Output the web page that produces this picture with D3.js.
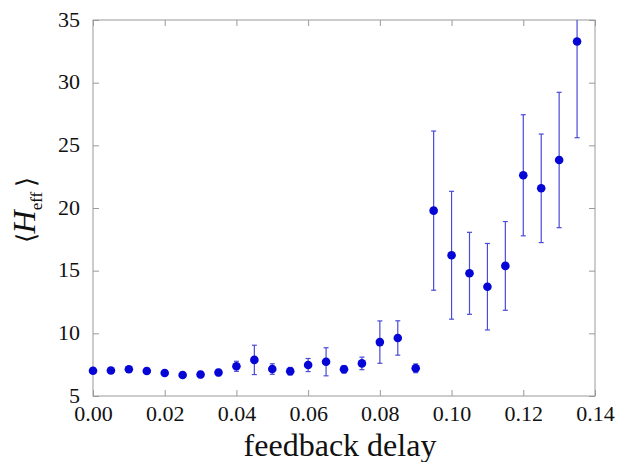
<!DOCTYPE html>
<html>
<head>
  <meta charset="utf-8">
  <script src="https://d3js.org/d3.v7.min.js"></script>
  <style>
    body { margin: 0; padding: 0; background: white; }
    .axis path { display: none; }
    .axis line { stroke: #9a9a9a; stroke-width: 1px; }
    .axis text { font-family: "Liberation Serif", serif; font-size: 22px; fill: #111; }
  </style>
</head>
<body>
<div id="chart"></div>
<script>
// feedback delay (x) and mean effective H with its error
const delay = [0.000, 0.005, 0.010, 0.015, 0.020, 0.025, 0.030, 0.035, 0.040, 0.045,
               0.050, 0.055, 0.060, 0.065, 0.070, 0.075, 0.080, 0.085, 0.090, 0.095,
               0.100, 0.105, 0.110, 0.115, 0.120, 0.125, 0.130, 0.135];
const meanH = [7.02, 7.03, 7.14, 7.00, 6.83, 6.68, 6.71, 6.87, 7.37, 7.88,
               7.15, 6.98, 7.47, 7.73, 7.13, 7.60, 9.30, 9.63, 7.21, 19.79,
               16.23, 14.79, 13.72, 15.38, 22.61, 21.57, 23.83, 33.28];
const errH = [0.20, 0.20, 0.20, 0.20, 0.20, 0.20, 0.25, 0.25, 0.40, 1.17,
              0.42, 0.30, 0.52, 1.12, 0.30, 0.50, 1.69, 1.37, 0.35, 6.35,
              5.10, 3.27, 3.45, 3.54, 4.83, 4.33, 5.40, 7.67];
const xTicks = [0, 0.02, 0.04, 0.06, 0.08, 0.10, 0.12, 0.14];
const yTicks = [5, 10, 15, 20, 25, 30, 35];

const width = 619, height = 462;
const margin = { top: 20, right: 24, bottom: 66, left: 93 };
const iw = width - margin.left - margin.right;
const ih = height - margin.top - margin.bottom;

const x = d3.scaleLinear().domain([0, 0.14]).range([0, iw]);
const y = d3.scaleLinear().domain([5, 35]).range([ih, 0]);

const svg = d3.select("#chart").append("svg")
  .attr("width", width)
  .attr("height", height);

svg.append("defs").append("clipPath").attr("id", "plotclip")
  .append("rect").attr("width", iw).attr("height", ih);

const g = svg.append("g").attr("transform", `translate(${margin.left},${margin.top})`);

// axes with inward ticks on all four sides
g.append("g").attr("class", "axis").attr("transform", `translate(0,${ih})`)
  .call(d3.axisBottom(x).tickValues(xTicks).tickSize(-6).tickPadding(9).tickFormat(d3.format(".2f")));
g.append("g").attr("class", "axis")
  .call(d3.axisTop(x).tickValues(xTicks).tickSize(-6).tickFormat(""));
g.append("g").attr("class", "axis")
  .call(d3.axisLeft(y).tickValues(yTicks).tickSize(-6).tickPadding(13))
  .selectAll("text").attr("dy", "0.28em");
g.append("g").attr("class", "axis").attr("transform", `translate(${iw},0)`)
  .call(d3.axisRight(y).tickValues(yTicks).tickSize(-6).tickFormat(""));

g.append("rect")
  .attr("width", iw).attr("height", ih)
  .attr("fill", "none").attr("stroke", "#9a9a9a").attr("stroke-width", 1);

const pts = delay.map((d, i) => ({ x: d, m: meanH[i], e: errH[i] }));

const bars = g.append("g").attr("clip-path", "url(#plotclip)")
  .attr("stroke", "#4a4ad8").attr("stroke-width", 1.2);

bars.selectAll("line.v").data(pts).enter().append("line")
  .attr("class", "v")
  .attr("x1", d => x(d.x)).attr("x2", d => x(d.x))
  .attr("y1", d => y(d.m - d.e)).attr("y2", d => y(d.m + d.e));
bars.selectAll("line.top").data(pts).enter().append("line")
  .attr("class", "top")
  .attr("x1", d => x(d.x) - 2.5).attr("x2", d => x(d.x) + 2.5)
  .attr("y1", d => y(d.m + d.e)).attr("y2", d => y(d.m + d.e));
bars.selectAll("line.bot").data(pts).enter().append("line")
  .attr("class", "bot")
  .attr("x1", d => x(d.x) - 2.5).attr("x2", d => x(d.x) + 2.5)
  .attr("y1", d => y(d.m - d.e)).attr("y2", d => y(d.m - d.e));

g.append("g").selectAll("circle").data(pts).enter().append("circle")
  .attr("cx", d => x(d.x)).attr("cy", d => y(d.m))
  .attr("r", 4.3)
  .attr("fill", "#0505d6");

// axis labels
svg.append("text")
  .attr("x", margin.left + iw / 2 - 4).attr("y", 456)
  .attr("text-anchor", "middle")
  .style("font-family", "Liberation Serif, serif")
  .style("font-size", "32px")
  .style("fill", "#111")
  .text("feedback delay");

const yl = svg.append("text")
  .attr("transform", "translate(35,210) rotate(-90)")
  .attr("text-anchor", "middle")
  .style("font-family", "Liberation Serif, serif")
  .style("font-size", "32px")
  .style("fill", "#111");
yl.append("tspan").style("font-size", "26px").style("font-weight", "300").text("\u27E8");
yl.append("tspan").style("font-style", "italic").text("H");
yl.append("tspan").attr("dy", 7).style("font-size", "17px").text("eff");
yl.append("tspan").attr("dy", -7).style("font-size", "26px").style("font-weight", "300").text("\u2009\u27E9");
</script>
</body>
</html>
